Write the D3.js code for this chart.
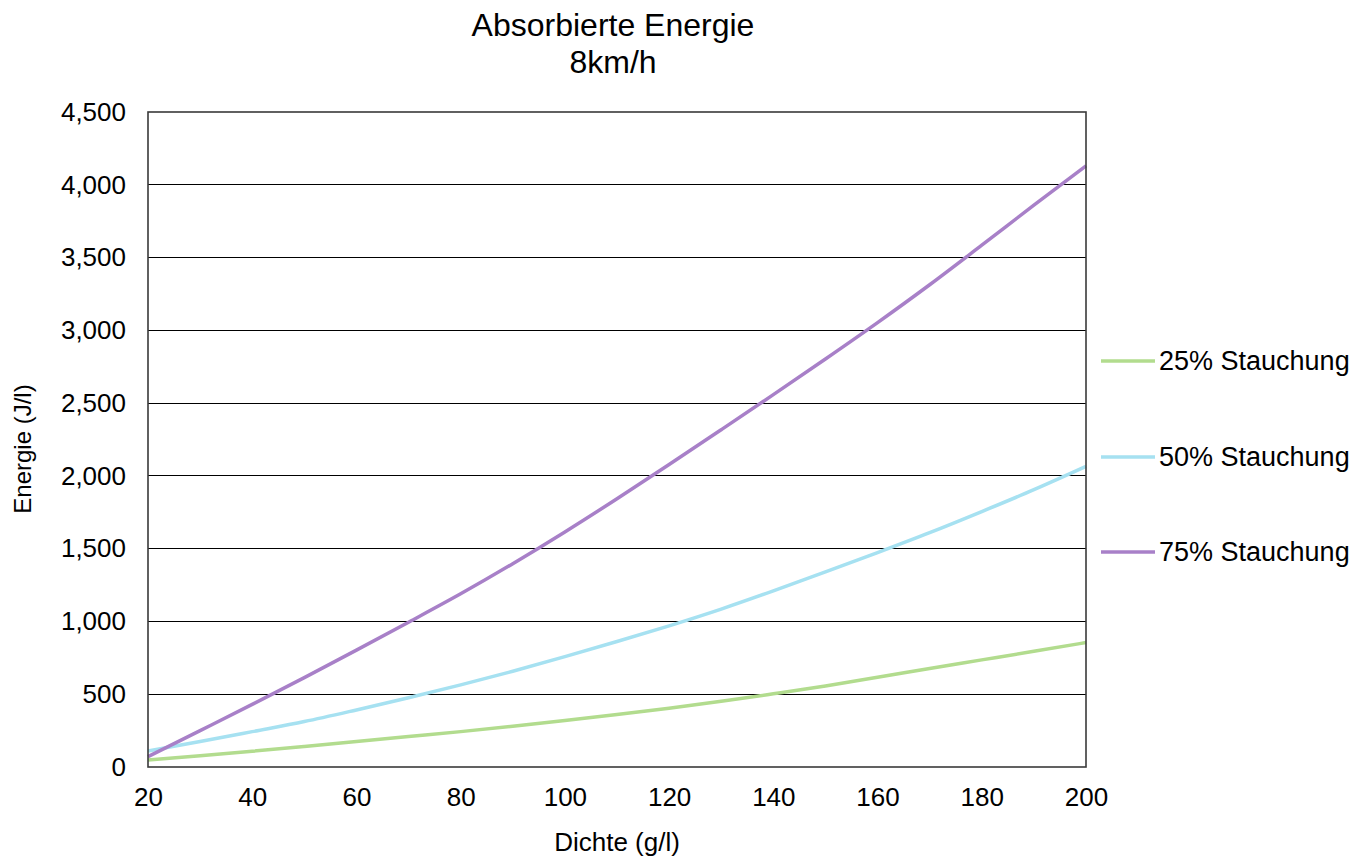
<!DOCTYPE html>
<html>
<head>
<meta charset="utf-8">
<script src="https://cdn.jsdelivr.net/npm/d3@7"></script>
<style>
  html, body { margin: 0; padding: 0; background: #fff; }
  svg { display: block; font-family: "Liberation Sans", Arial, sans-serif; }
</style>
</head>
<body>
<svg id="chart" width="1364" height="858"></svg>
<script>
// Density (g/l) sample points
const density = [20, 30, 40, 50, 60, 70, 80, 90, 100, 110, 120, 130, 140, 150, 160, 170, 180, 190, 200];

// Absorbed energy (J/l) for each compression level
const energy25 = [48, 77, 108, 141, 175, 209, 243, 280, 319, 360, 404, 451, 503, 557, 616, 677, 736, 795, 855];
const energy50 = [110, 175, 243, 312, 392, 476, 564, 658, 758, 862, 970, 1085, 1210, 1340, 1473, 1610, 1755, 1905, 2065];
const energy75 = [71, 250, 430, 614, 803, 995, 1190, 1397, 1615, 1843, 2078, 2317, 2558, 2803, 3053, 3313, 3585, 3860, 4130];

const seriesNames = ["25% Stauchung", "50% Stauchung", "75% Stauchung"];
const seriesColors = ["#b2dc8e", "#a6e1f1", "#a880c8"];

const xTicks = [20, 40, 60, 80, 100, 120, 140, 160, 180, 200];
const yTicks = [0, 500, 1000, 1500, 2000, 2500, 3000, 3500, 4000, 4500];

const titleLines = ["Absorbierte Energie", "8km/h"];
const xTitle = "Dichte (g/l)";
const yTitle = "Energie (J/l)";

const svg = d3.select("#chart");
const plot = { left: 148, right: 1086, top: 112, bottom: 767 };

const x = d3.scaleLinear().domain([20, 200]).range([plot.left, plot.right]);
const y = d3.scaleLinear().domain([0, 4500]).range([plot.bottom, plot.top]);

// Horizontal gridlines
svg.append("g")
  .selectAll("line")
  .data(yTicks.slice(1, -1))
  .join("line")
  .attr("x1", plot.left).attr("x2", plot.right)
  .attr("y1", d => y(d)).attr("y2", d => y(d))
  .attr("stroke", "#000").attr("stroke-width", 1)
  .attr("shape-rendering", "crispEdges");

// Y axis labels
const yAxis = d3.axisLeft(y).tickValues(yTicks).tickSize(0).tickPadding(22)
  .tickFormat(d3.format(","));
svg.append("g")
  .attr("transform", `translate(${plot.left},0)`)
  .call(yAxis)
  .call(g => g.select(".domain").remove())
  .selectAll("text")
  .attr("font-size", 26).attr("fill", "#000")
  .attr("font-family", "Liberation Sans, Arial, sans-serif");

// X axis labels
const xAxis = d3.axisBottom(x).tickValues(xTicks).tickSize(0).tickPadding(21);
svg.append("g")
  .attr("transform", `translate(0,${plot.bottom})`)
  .call(xAxis)
  .call(g => g.select(".domain").remove())
  .selectAll("text")
  .attr("font-size", 26).attr("fill", "#000")
  .attr("font-family", "Liberation Sans, Arial, sans-serif");

// Series lines
const series = [energy25, energy50, energy75];
const line = d3.line()
  .x((d, i) => x(density[i]))
  .y(d => y(d))
  .curve(d3.curveMonotoneX);

svg.append("g")
  .selectAll("path")
  .data(series)
  .join("path")
  .attr("d", d => line(d))
  .attr("fill", "none")
  .attr("stroke", (d, i) => seriesColors[i])
  .attr("stroke-width", 3.5)
  .attr("stroke-linejoin", "round");

// Plot frame
svg.append("rect")
  .attr("x", plot.left).attr("y", plot.top)
  .attr("width", plot.right - plot.left)
  .attr("height", plot.bottom - plot.top)
  .attr("fill", "none")
  .attr("stroke", "#3a3a3a").attr("stroke-width", 1.6);

// Title
svg.append("text")
  .attr("x", 613).attr("text-anchor", "middle")
  .attr("font-size", 32).attr("fill", "#000")
  .selectAll("tspan")
  .data(titleLines)
  .join("tspan")
  .attr("x", 613)
  .attr("y", (d, i) => 36 + i * 37)
  .text(d => d);

// Axis titles
svg.append("text")
  .attr("x", 617).attr("y", 851)
  .attr("text-anchor", "middle")
  .attr("font-size", 26).attr("fill", "#000")
  .text(xTitle);

svg.append("text")
  .attr("transform", "translate(31,449) rotate(-90)")
  .attr("text-anchor", "middle")
  .attr("font-size", 24).attr("fill", "#000")
  .text(yTitle);

// Legend
const legendY = [361, 457, 552];
const legend = svg.append("g")
  .selectAll("g")
  .data(seriesNames)
  .join("g")
  .attr("transform", (d, i) => `translate(1101,${legendY[i]})`);

legend.append("line")
  .attr("x1", 0).attr("x2", 54)
  .attr("y1", 0).attr("y2", 0)
  .attr("stroke", (d, i) => seriesColors[i])
  .attr("stroke-width", 3.5);

legend.append("text")
  .attr("x", 58).attr("y", 9)
  .attr("font-size", 27).attr("fill", "#000")
  .text(d => d);
</script>
</body>
</html>
